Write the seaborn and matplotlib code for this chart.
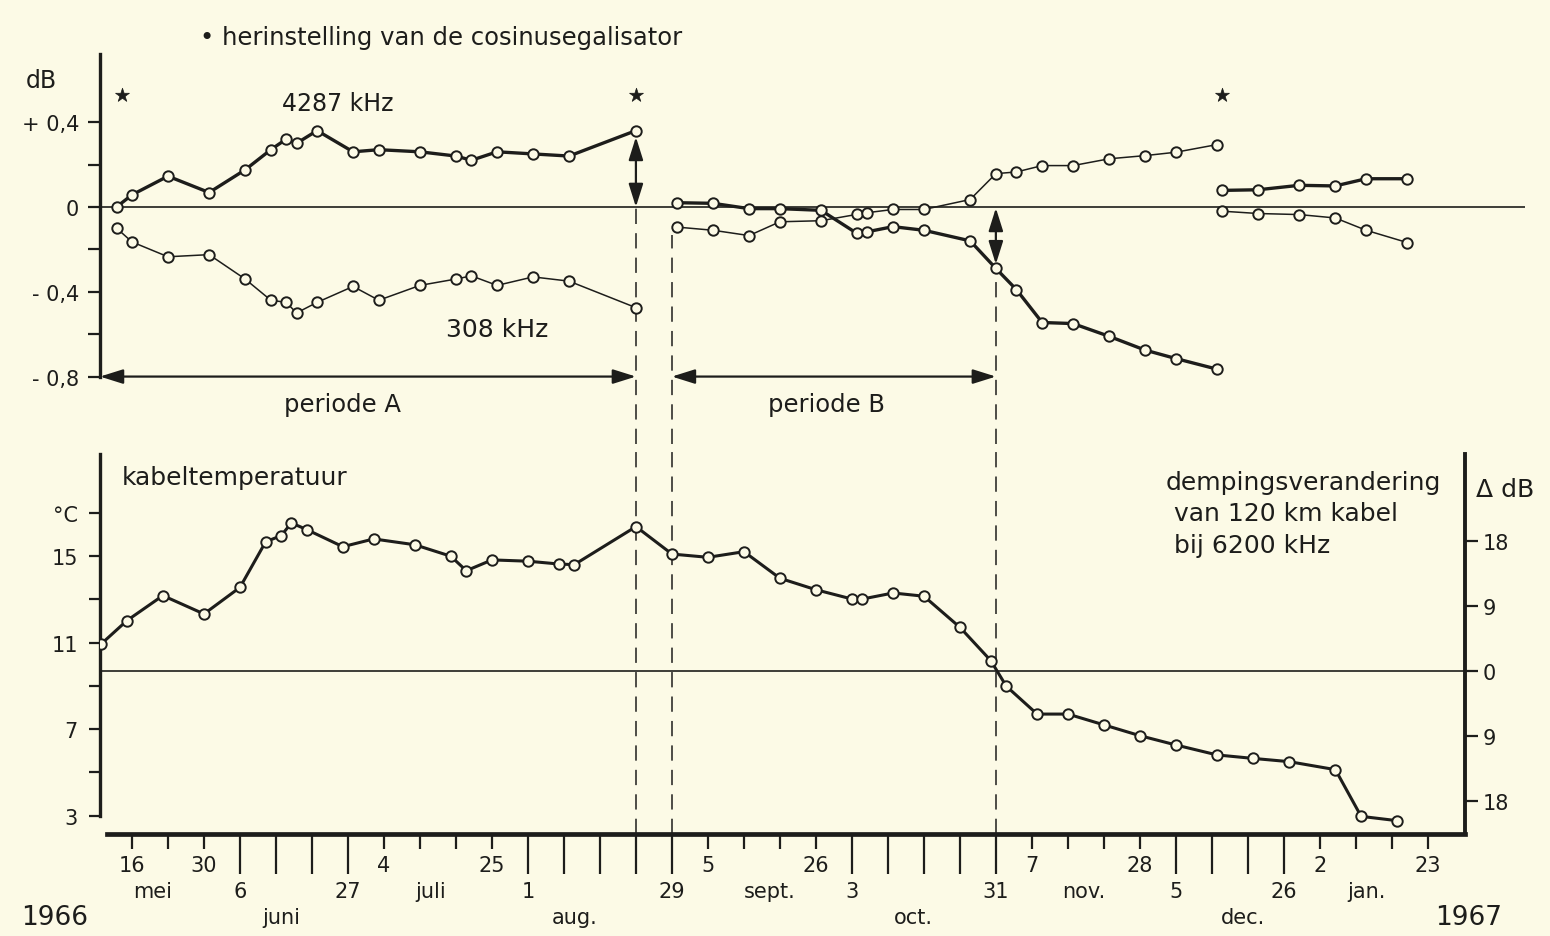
import matplotlib
matplotlib.use('Agg')
import numpy as np
import pandas as pd
import seaborn as sns
import matplotlib.pyplot as plt
import matplotlib.dates as mdates
import matplotlib.transforms as mtransforms

# ---------------- data ----------------
# dB deviation, periode A (before first dashed line)
dates_a = ['1966-05-13', '1966-05-16', '1966-05-23', '1966-05-31', '1966-06-07', '1966-06-12',
           '1966-06-15', '1966-06-17', '1966-06-21', '1966-06-28', '1966-07-03', '1966-07-11',
           '1966-07-18', '1966-07-21', '1966-07-26', '1966-08-02', '1966-08-09', '1966-08-22']
khz4287_a = [0.0, 0.057, 0.145, 0.068, 0.175, 0.27, 0.32, 0.30, 0.36, 0.26, 0.27, 0.26,
             0.24, 0.22, 0.26, 0.25, 0.24, 0.36]
khz308_a = [-0.10, -0.165, -0.235, -0.225, -0.34, -0.44, -0.45, -0.50, -0.45, -0.375, -0.44, -0.37,
            -0.34, -0.325, -0.37, -0.33, -0.35, -0.475]

# periode B and after
dates_b = ['1966-08-30', '1966-09-06', '1966-09-13', '1966-09-19', '1966-09-27', '1966-10-04',
           '1966-10-06', '1966-10-11', '1966-10-17', '1966-10-26', '1966-10-31', '1966-11-04',
           '1966-11-09', '1966-11-15', '1966-11-22', '1966-11-29', '1966-12-05', '1966-12-13']
khz4287_b = [0.02, 0.017, -0.008, -0.008, -0.016, -0.125, -0.117, -0.093, -0.11, -0.16, -0.29, -0.39,
             -0.545, -0.55, -0.61, -0.675, -0.715, -0.765]
khz308_b = [-0.095, -0.11, -0.135, -0.07, -0.065, -0.035, -0.027, -0.012, -0.012, 0.035, 0.157, 0.165,
            0.195, 0.195, 0.227, 0.242, 0.258, 0.294]

# december / january after the last reset
dates_c = ['1966-12-14', '1966-12-21', '1966-12-29', '1967-01-05', '1967-01-11', '1967-01-19']
khz4287_c = [0.078, 0.081, 0.102, 0.099, 0.133, 0.133]
khz308_c = [-0.02, -0.031, -0.036, -0.052, -0.11, -0.168]

reset_dates = ['1966-05-14', '1966-08-22', '1966-12-14']

# cable temperature
temp_dates = ['1966-05-10', '1966-05-15', '1966-05-22', '1966-05-30', '1966-06-06', '1966-06-11',
              '1966-06-14', '1966-06-16', '1966-06-19', '1966-06-26', '1966-07-02', '1966-07-10',
              '1966-07-17', '1966-07-20', '1966-07-25', '1966-08-01', '1966-08-07', '1966-08-10',
              '1966-08-22', '1966-08-29', '1966-09-05', '1966-09-12', '1966-09-19', '1966-09-26',
              '1966-10-03', '1966-10-05', '1966-10-11', '1966-10-17', '1966-10-24', '1966-10-30',
              '1966-11-02', '1966-11-08', '1966-11-14', '1966-11-21', '1966-11-28', '1966-12-05',
              '1966-12-13', '1966-12-20', '1966-12-27', '1967-01-05', '1967-01-10', '1967-01-17']
temp_c = [10.94, 12.02, 13.18, 12.33, 13.56, 15.67, 15.95, 16.54, 16.23, 15.44, 15.80, 15.53,
          15.0, 14.33, 14.83, 14.77, 14.64, 14.61, 16.37, 15.10, 14.95, 15.21, 13.98, 13.45,
          13.02, 13.02, 13.30, 13.15, 11.71, 10.17, 8.99, 7.70, 7.70, 7.20, 6.70, 6.27,
          5.81, 5.65, 5.50, 5.13, 2.97, 2.77]

t_ref = 9.7          # temperature at 0 dB change
db_per_degree = 3.0  # 120 km cable at 6200 kHz

marker_dates = ['1966-08-22', '1966-08-29', '1966-10-31']

# axis labels
row1_dates = ['1966-05-16', '1966-05-30', '1966-07-04', '1966-07-25', '1966-09-05', '1966-09-26',
              '1966-11-07', '1966-11-28', '1967-01-02', '1967-01-23']
row1_text = ['16', '30', '4', '25', '5', '26', '7', '28', '2', '23']
row2_dates = ['1966-05-20', '1966-06-06', '1966-06-27', '1966-07-13', '1966-08-01', '1966-08-29',
              '1966-09-17', '1966-10-03', '1966-10-31', '1966-11-17', '1966-12-05', '1966-12-26',
              '1967-01-11']
row2_text = ['mei', '6', '27', 'juli', '1', '29', 'sept.', '3', '31', 'nov.', '5', '26', 'jan.']
row3_dates = ['1966-05-01', '1966-06-14', '1966-08-10', '1966-10-15', '1966-12-18', '1967-01-31']
row3_text = ['1966', 'juni', 'aug.', 'oct.', 'dec.', '1967']

# ---------------- style ----------------
bg = '#fcfae6'
ink = '#1d1d1b'
sns.set_theme(style='white', rc={'axes.facecolor': bg, 'figure.facecolor': bg})
plt.rcParams['font.family'] = ['DejaVu Sans']
plt.rcParams['text.color'] = ink
plt.rcParams['xtick.color'] = ink
plt.rcParams['ytick.color'] = ink

base = pd.Timestamp('1966-05-16')
x_left = base + pd.Timedelta(days=-6.22)
x_right_top = base + pd.Timedelta(days=270.9)
x_right_bot = base + pd.Timedelta(days=259.2)
D = pd.to_datetime

fig = plt.figure(figsize=(15.5, 9.37), dpi=100)
ax1 = fig.add_axes([100 / 1550, (937 - 445) / 937, 1425 / 1550, 405 / 937])
ax2 = fig.add_axes([100 / 1550, (937 - 835) / 937, 1365 / 1550, 390 / 937])
for ax in (ax1, ax2):
    ax.set_facecolor('none')


def series(ax, dates, vals, lw):
    sns.lineplot(x=D(dates), y=vals, ax=ax, color=ink, linewidth=lw, marker='o',
                 markersize=7.5, markerfacecolor=bg, markeredgecolor=ink,
                 markeredgewidth=1.4, zorder=4)


# ---------------- top panel (dB) ----------------
series(ax1, dates_a, khz4287_a, 2.4)
series(ax1, dates_a, khz308_a, 1.1)
series(ax1, dates_b, khz4287_b, 2.4)
series(ax1, dates_b, khz308_b, 1.1)
series(ax1, dates_c, khz4287_c, 2.4)
series(ax1, dates_c, khz308_c, 1.1)
sns.scatterplot(x=D(reset_dates), y=np.full(len(reset_dates), 0.53), ax=ax1, marker='*',
                s=110, color=ink, edgecolor=ink, linewidth=0.5, zorder=5)

ax1.axhline(0, color=ink, lw=1.2, zorder=2)
ax1.set_xlim(x_left, x_right_top)
ax1.set_ylim(-1.118, 0.792)
ax1.set_xlabel('')
ax1.set_ylabel('')
ax1.xaxis.set_visible(False)
for s in ('top', 'right', 'bottom'):
    ax1.spines[s].set_visible(False)
ax1.spines['left'].set_color(ink)
ax1.spines['left'].set_linewidth(2.4)
ax1.spines['left'].set_bounds(-0.8, 0.72)
ax1.set_yticks([-0.8, -0.6, -0.4, -0.2, 0, 0.2, 0.4])
ax1.set_yticklabels(['- 0,8', '', '- 0,4', '', '0', '', '+ 0,4'])
ax1.tick_params(axis='y', direction='out', length=9, width=1.6, labelsize=15, pad=6, left=True)

trans1 = mtransforms.blended_transform_factory(ax1.transAxes, ax1.transData)
ax1.text(-0.041, 0.6, 'dB', transform=trans1, ha='center', va='center', fontsize=17)
ax1.text(D('1966-06-25'), 0.49, '4287 kHz', ha='center', va='center', fontsize=17)
ax1.text(D('1966-07-26'), -0.575, '308 kHz', ha='center', va='center', fontsize=18)
ax1.text(D('1966-06-26'), -0.93, 'periode A', ha='center', va='center', fontsize=17.5)
ax1.text(D('1966-09-28'), -0.93, 'periode B', ha='center', va='center', fontsize=17.5)

arrow_kw = dict(arrowstyle='<|-|>,head_length=0.7,head_width=0.22', color=ink, lw=1.6,
                mutation_scale=20, shrinkA=0, shrinkB=0)
ax1.annotate('', xy=(x_left, -0.8), xytext=(D(marker_dates[0]), -0.8), arrowprops=arrow_kw)
ax1.annotate('', xy=(D(marker_dates[1]), -0.8), xytext=(D(marker_dates[2]), -0.8), arrowprops=arrow_kw)
ax1.annotate('', xy=(D(marker_dates[0]), 0.0), xytext=(D(marker_dates[0]), 0.33), arrowprops=arrow_kw)
ax1.annotate('', xy=(D(marker_dates[2]), -0.005), xytext=(D(marker_dates[2]), -0.27), arrowprops=arrow_kw)

dash_top = [0.0, -0.13, -0.34]
for d, top in zip(marker_dates, dash_top):
    ax1.vlines(D(d), -1.118, top, colors=ink, lw=1.1, linestyles=(0, (10, 6)), zorder=1)

# ---------------- bottom panel (temperature) ----------------
series(ax2, temp_dates, temp_c, 2.2)
ax2.axhline(t_ref, color=ink, lw=1.2, zorder=2)
for d in marker_dates:
    ax2.axvline(D(d), color=ink, lw=1.1, linestyle=(0, (10, 6)), zorder=1)

ax2.set_xlim(x_left, x_right_bot)
ax2.set_ylim(2.154, 20.19)
ax2.set_xlabel('')
ax2.set_ylabel('')
ax2.spines['top'].set_visible(False)
ax2.spines['right'].set_visible(False)
ax2.spines['left'].set_color(ink)
ax2.spines['left'].set_linewidth(2.4)
ax2.spines['left'].set_bounds(3, 19.73)
ax2.spines['bottom'].set_color(ink)
ax2.spines['bottom'].set_linewidth(3.4)
ax2.spines['bottom'].set_bounds(mdates.date2num(base + pd.Timedelta(days=-4.8)),
                                mdates.date2num(x_right_bot))

ax2.set_yticks([3, 5, 7, 9, 11, 13, 15, 17])
ax2.set_yticklabels(['3', '', '7', '', '11', '', '15', '°C'])
ax2.tick_params(axis='y', direction='out', length=8, width=1.6, labelsize=15, pad=8, left=True)

ticks = pd.date_range('1966-05-16', '1967-01-23', freq='7D')
long_months = ticks.month.isin([6, 8, 10, 12])
ax2.set_xticks(mdates.date2num(ticks[~long_months]))
ax2.set_xticks(mdates.date2num(ticks[long_months]), minor=True)
ax2.tick_params(axis='x', which='major', direction='out', length=11, width=1.6,
                labelbottom=False, bottom=True)
ax2.tick_params(axis='x', which='minor', direction='out', length=29, width=1.6,
                labelbottom=False, bottom=True)

to_db = lambda t: (t - t_ref) * db_per_degree
sec = ax2.secondary_yaxis('right', functions=(to_db, lambda v: v / db_per_degree + t_ref))
sec.set_yticks([-18, -9, 0, 9, 18])
sec.set_yticklabels(['18', '9', '0', '9', '18'])
sec.tick_params(axis='y', direction='out', length=9, width=1.6, labelsize=15, pad=4, colors=ink)
sec.spines['right'].set_color(ink)
sec.spines['right'].set_linewidth(2.8)
sec.spines['right'].set_bounds(to_db(2.154), to_db(19.73))

trans2 = mtransforms.blended_transform_factory(ax2.transData, ax2.transAxes)
for d, t in zip(row1_dates, row1_text):
    ax2.text(D(d), -0.079, t, transform=trans2, ha='center', va='center', fontsize=15)
for d, t in zip(row2_dates, row2_text):
    ax2.text(D(d), -0.147, t, transform=trans2, ha='center', va='center', fontsize=15)
for d, t in zip(row3_dates, row3_text):
    size = 19 if t.isdigit() else 15
    ax2.text(D(d), -0.212, t, transform=trans2, ha='center', va='center', fontsize=size)

ax2.text(D('1966-05-14'), 18.67, 'kabeltemperatuur', ha='left', va='center', fontsize=18)
ax2.text(D('1966-12-03'), 19.0, 'dempingsverandering\n van 120 km kabel\n bij 6200 kHz',
         ha='left', va='top', fontsize=18, linespacing=1.4)

fig.text(1476 / 1550, 1 - 490 / 937, 'Δ dB', ha='left', va='center', fontsize=18)
fig.text(200 / 1550, 1 - 38 / 937, '• herinstelling van de cosinusegalisator',
         ha='left', va='center', fontsize=17.5)

fig.savefig('out.png', dpi=100, facecolor=bg)
